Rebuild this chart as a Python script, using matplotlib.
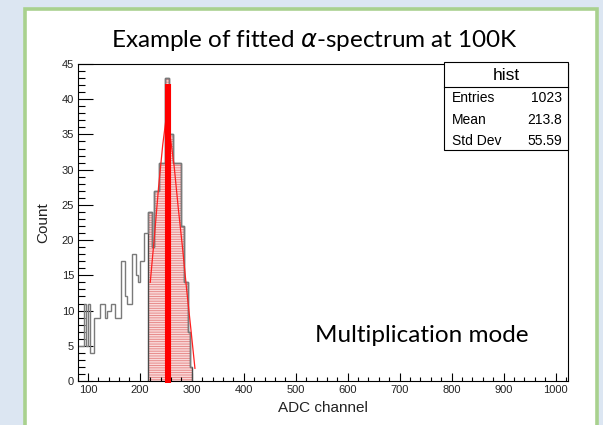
import numpy as np
import matplotlib
matplotlib.use("Agg")
import matplotlib.pyplot as plt
from matplotlib.patches import Rectangle
from matplotlib.lines import Line2D
from matplotlib.ticker import MultipleLocator

# ---------------- data ----------------
bin_start = 80
bin_width = 4
counts = [5, 5, 5, 11, 5, 11, 4, 4, 9, 9,
          9, 11, 11, 9, 10, 10, 11, 11, 9, 9,
          9, 17, 17, 12, 11, 11, 18, 18, 15, 14,
          17, 17, 21, 21, 24, 24, 19, 27, 27, 31,
          31, 31, 43, 43, 35, 35, 31, 31, 31, 31,
          22, 14, 14, 7, 2]
fit_range = (216, 300)           # shaded (fitted) region
fit_x = [220, 228, 236, 244, 250, 258, 266, 274, 282, 290, 298, 306]
fit_y = [14, 20.5, 27.5, 33.5, 37, 35, 30.5, 24.5, 19, 13, 7.5, 1.8]
peak_pos = 255
peak_height = 42.2

stats_labels = ["Entries", "Mean", "Std Dev"]
stats_values = ["1023", "213.8", "55.59"]

title = r"Example of fitted $\alpha$-spectrum at 100K"
note = "Multiplication mode"
xlabel = "ADC channel"
ylabel = "Count"
xlim = (80, 1023)
ylim = (0, 45)

# ---------------- figure ----------------
W, H = 603, 425
fig = plt.figure(figsize=(W / 100, H / 100), dpi=100, facecolor="#dce6f2")

def px(x, y):
    return (x / W, 1 - y / H)

# white panel with green border
panel = Rectangle(px(25, 440), (597 - 25) / W, (440 - 8.5) / H,
                  transform=fig.transFigure, facecolor="white",
                  edgecolor="#a9d18e", linewidth=2.6, zorder=0)
fig.add_artist(panel)

ax_l, ax_r, ax_t, ax_b = 77.5, 567.5, 64, 381
ax = fig.add_axes([ax_l / W, 1 - ax_b / H, (ax_r - ax_l) / W, (ax_b - ax_t) / H])
ax.set_facecolor("white")

edges = np.arange(len(counts) + 1) * bin_width + bin_start
counts_arr = np.array(counts, dtype=float)

# shaded fit region
mask = (edges[:-1] >= fit_range[0]) & (edges[1:] <= fit_range[1])
idx = np.where(mask)[0]
sub_edges = edges[idx[0]: idx[-1] + 2]
sub_counts = counts_arr[idx]
plt.rcParams["hatch.linewidth"] = 0.6
ax.stairs(sub_counts, sub_edges, fill=True, facecolor="#f9d9d9",
          edgecolor="#e47f7f", hatch="-------", linewidth=0, zorder=1)
ax.stairs(sub_counts, sub_edges, baseline=0, color="#4a4a4a", linewidth=1.0, zorder=2)

# full histogram outline
ax.stairs(counts_arr, edges, baseline=None, color="#7a7a7a", linewidth=1.0, zorder=2)

# fit curve
ax.plot(fit_x, fit_y, color="#ff2020", linewidth=0.9, zorder=3)

# thick red marker
ax.vlines(peak_pos, -0.35, peak_height, color="#ff0000", linewidth=4.4,
          zorder=4, clip_on=False)

ax.set_xlim(*xlim)
ax.set_ylim(*ylim)

ax.xaxis.set_major_locator(MultipleLocator(100))
ax.xaxis.set_minor_locator(MultipleLocator(20))
ax.yaxis.set_major_locator(MultipleLocator(5))
ax.yaxis.set_minor_locator(MultipleLocator(1))

font = "Liberation Sans"
ax.tick_params(axis="both", which="both", direction="in", top=False, right=False,
               color="black", width=0.8)
ax.tick_params(axis="x", which="major", length=5.8, pad=3, labelsize=8)
ax.tick_params(axis="x", which="minor", length=2.9)
ax.tick_params(axis="y", which="major", length=10.8, pad=2.5, labelsize=8)
ax.tick_params(axis="y", which="minor", length=5.2)
for lab in ax.get_xticklabels() + ax.get_yticklabels():
    lab.set_fontfamily(font)
    lab.set_color("#222222")

for s in ax.spines.values():
    s.set_linewidth(0.8)
    s.set_color("black")

ax.set_xlabel(xlabel, fontfamily=font, fontsize=11, color="#222222")
ax.xaxis.set_label_coords(0.5, -(401 - ax_b) / (ax_b - ax_t))
ax.set_ylabel(ylabel, fontfamily=font, fontsize=11, color="#222222")
ax.yaxis.set_label_coords((50 - ax_l) / (ax_r - ax_l), 0.5)

# stats box
bx0, bx1, by0, by1, bsep = 444, 567.5, 62, 150, 86.7
fig.add_artist(Rectangle(px(bx0, by1), (bx1 - bx0) / W, (by1 - by0) / H,
                         transform=fig.transFigure, facecolor="white",
                         edgecolor="black", linewidth=0.8, zorder=5))
fig.add_artist(Line2D([bx0 / W, bx1 / W], [1 - bsep / H, 1 - bsep / H],
                      transform=fig.transFigure, color="black", linewidth=0.8, zorder=6))
fig.text(*px(506, 75), "hist", ha="center", va="center", fontsize=12.5,
         fontfamily=font, zorder=7)
for i, (lab, val) in enumerate(zip(stats_labels, stats_values)):
    yy = 98 + i * 21.6
    fig.text(*px(452, yy), lab, ha="left", va="center", fontsize=10,
             fontfamily=font, zorder=7)
    fig.text(*px(562, yy), val, ha="right", va="center", fontsize=10,
             fontfamily=font, zorder=7)

# title and note
fig.text(*px(315, 47), title, ha="center", va="baseline", fontsize=17.5,
         fontfamily="Lato", color="black")
ax.text(*((421.5 - ax_l) / (ax_r - ax_l), (ax_b - 342) / (ax_b - ax_t)), note,
        transform=ax.transAxes, ha="center", va="baseline", fontsize=17.5,
        fontfamily="Lato", color="black")

fig.savefig("out.png", dpi=100, facecolor=fig.get_facecolor())
